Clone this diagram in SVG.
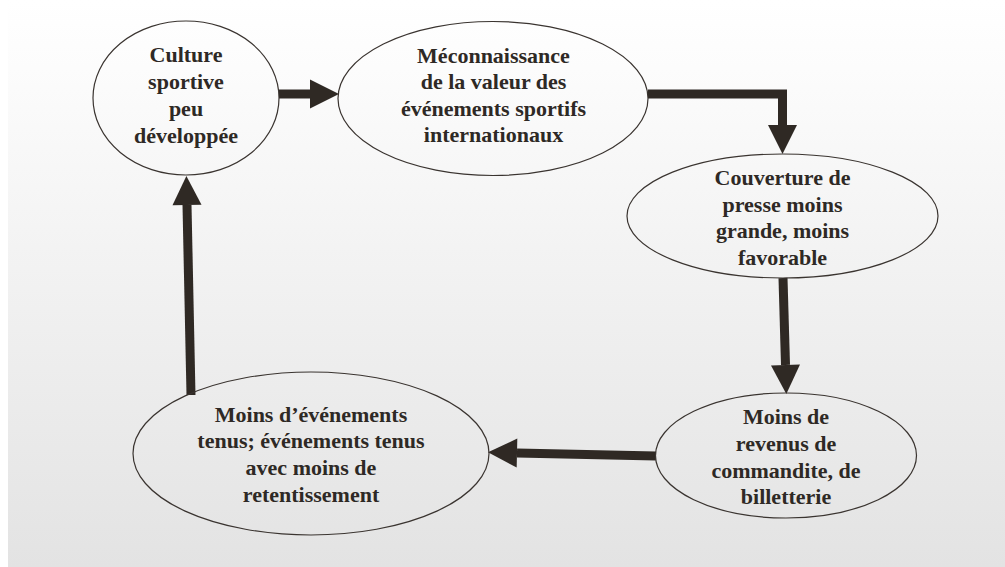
<svg xmlns="http://www.w3.org/2000/svg" width="1005" height="567" viewBox="0 0 1005 567">
  <defs>
    <linearGradient id="bg" x1="0" y1="0" x2="0" y2="1">
      <stop offset="0" stop-color="#ffffff"/>
      <stop offset="0.12" stop-color="#fcfcfc"/>
      <stop offset="1" stop-color="#e3e3e3"/>
    </linearGradient>
    <marker id="head" markerUnits="userSpaceOnUse" markerWidth="30" markerHeight="30" refX="0" refY="14.5" orient="auto" overflow="visible">
      <path d="M0,0 L29,14.5 L0,29 Z" fill="#2f2924"/>
    </marker>
    <style>
      .node ellipse { fill: none; stroke: #3a3430; stroke-width: 1.2; }
      .node text { font-family: "Liberation Serif", "Times New Roman", serif; font-weight: bold; font-size: 22px; fill: #2e2925; text-anchor: middle; }
      #connectors path { fill: none; stroke: #2f2924; stroke-width: 9; stroke-linejoin: miter; marker-end: url(#head); }
    </style>
  </defs>
  <rect x="0" y="0" width="1005" height="567" fill="#ffffff"/>
  <rect x="8" y="0" width="997" height="567" fill="url(#bg)"/>

  <g id="connectors">
    <path d="M279,94 L310,94"/>
    <path d="M648,94 L782.5,94 L782.5,125"/>
    <path d="M783,278 L785.5,365"/>
    <path d="M656,456 L517,453"/>
    <path d="M191,395 L187,205"/>
  </g>

  <g id="node-culture" class="node">
    <ellipse cx="186" cy="98" rx="93" ry="77"/>
    <text x="186" y="62">Culture</text>
    <text x="186" y="89">sportive</text>
    <text x="186" y="116">peu</text>
    <text x="186" y="143">développée</text>
  </g>

  <g id="node-meconnaissance" class="node">
    <ellipse cx="493" cy="98.5" rx="155" ry="77"/>
    <text x="493.5" y="62.5">Méconnaissance</text>
    <text x="493.5" y="89">de la valeur des</text>
    <text x="493.5" y="115.5">événements sportifs</text>
    <text x="493.5" y="142">internationaux</text>
  </g>

  <g id="node-couverture" class="node">
    <ellipse cx="782.5" cy="216" rx="155.5" ry="62"/>
    <text x="782.5" y="185">Couverture de</text>
    <text x="782.5" y="211.5">presse moins</text>
    <text x="782.5" y="238">grande, moins</text>
    <text x="782.5" y="264.5">favorable</text>
  </g>

  <g id="node-revenus" class="node">
    <ellipse cx="786" cy="455.5" rx="130.5" ry="62.5"/>
    <text x="786" y="424">Moins de</text>
    <text x="786" y="450.7">revenus de</text>
    <text x="786" y="477.5">commandite, de</text>
    <text x="786" y="504">billetterie</text>
  </g>

  <g id="node-evenements" class="node">
    <ellipse cx="311" cy="453.5" rx="178" ry="81.5"/>
    <text x="311" y="421.7">Moins d’événements</text>
    <text x="311" y="448.3">tenus; événements tenus</text>
    <text x="311" y="475">avec moins de</text>
    <text x="311" y="501.7">retentissement</text>
  </g>
</svg>
